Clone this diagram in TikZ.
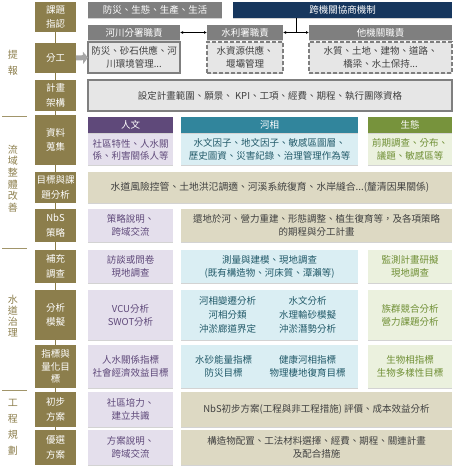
\documentclass[tikz,border=0pt]{standalone}
\usepackage{fontspec}
\setmainfont{Noto Sans CJK TC}
\usetikzlibrary{shadows,arrows.meta}
\definecolor{cOlive}{HTML}{8C7E4C}
\definecolor{cOliveLt}{HTML}{A1956A}
\definecolor{cGrayHd}{HTML}{7F7F7F}
\definecolor{cNavy}{HTML}{17375E}
\definecolor{cGrayFill}{HTML}{E6E6E6}
\definecolor{cGrayLine}{HTML}{7F7F7F}
\definecolor{cPurHd}{HTML}{5F497A}
\definecolor{cPurFill}{HTML}{E4DFEC}
\definecolor{cPurTxt}{HTML}{5F497A}
\definecolor{cTealHd}{HTML}{31859C}
\definecolor{cBlueFill}{HTML}{DAEEF3}
\definecolor{cBlueTxt}{HTML}{215968}
\definecolor{cGrnHd}{HTML}{77933C}
\definecolor{cGrnFill}{HTML}{EBF1DE}
\definecolor{cGrnTxt}{HTML}{6F8F34}
\definecolor{cBeige}{HTML}{DDD9C3}
\definecolor{cDark}{HTML}{404040}
\definecolor{cArrow}{HTML}{A6A6A6}
\newcommand\mybox[7]{\node[#1, minimum width={#4-#2}, minimum height={#5-#3}] (#6) at ({(#2+#4)/2},{(#3+#5)/2}) {#7};}
\begin{document}
\begin{tikzpicture}[x=1pt,y=-1pt,
  base/.style={inner sep=0pt, outer sep=0pt, align=center, font=\fontsize{9.5}{13}\selectfont},
  stepbox/.style={base, fill=cOlive, text=white, font=\fontsize{9.5}{14.5}\selectfont},
  shad/.style={drop shadow={shadow xshift=0.4pt, shadow yshift=-0.9pt, opacity=0.35, fill=black!50}},
  grayhd/.style={base, fill=cGrayHd, text=white, shad},
  navyhd/.style={base, fill=cNavy, text=white, shad},
  graysolid/.style={base, fill=cGrayFill, draw=cGrayLine, line width=1.2pt, text=cDark, shad},
  graydash/.style={base, fill=cGrayFill, draw=cGrayLine, line width=1.2pt, dash pattern=on 4pt off 2pt, text=cDark, shad},
  purhd/.style={base, fill=cPurHd, text=white, shad},
  tealhd/.style={base, fill=cTealHd, text=white, shad},
  grnhd/.style={base, fill=cGrnHd, text=white, shad},
  purbox/.style={base, fill=cPurFill, text=cPurTxt, shad},
  bluebox/.style={base, fill=cBlueFill, text=cBlueTxt, shad},
  grnbox/.style={base, fill=cGrnFill, text=cGrnTxt, shad},
  beigebox/.style={base, fill=cBeige, text=cDark, shad},
  bluetxt/.style={base, text=cBlueTxt},
  phase/.style={inner sep=0pt, align=center, text=cOlive},
  sepline/.style={cOliveLt, line width=0.8pt},
  chain/.style={cOlive, line width=0.8pt},
  dbl/.style={{Latex[length=3pt,width=3pt]}-{Latex[length=3pt,width=3pt]}, line width=0.6pt, black}
]
\useasboundingbox (0,0) rectangle (456,470);

% phase labels and separators
\node[phase, font=\fontsize{10}{16}\selectfont] (ph1) at (13,63) {提\\報};
\node[phase, font=\fontsize{10}{11.7}\selectfont] (ph2) at (13,178.5) {流\\域\\整\\體\\改\\善};
\node[phase, font=\fontsize{10}{11}\selectfont] (ph3) at (13,316) {水\\道\\治\\理};
\node[phase, font=\fontsize{10}{16}\selectfont] (ph4) at (13,427) {工\\程\\規\\劃};
\draw[sepline] (2,116.5) -- (27,116.5);
\draw[sepline] (2,248.5) -- (27,248.5);
\draw[sepline] (2,390.5) -- (27,390.5);

% step boxes
\mybox{stepbox}{35}{2}{76}{32}{s1}{課題\\指認}
\mybox{stepbox}{35}{43}{76}{73}{s2}{分工}
\mybox{stepbox}{35}{80}{76}{111}{s3}{計畫\\架構}
\mybox{stepbox}{35}{115}{76}{165}{s4}{資料\\蒐集}
\mybox{stepbox}{35}{172}{76}{203}{s5}{目標與課\\題分析}
\mybox{stepbox}{35}{209}{76}{242}{s6}{NbS\\策略}
\mybox{stepbox}{35}{250}{76}{283}{s7}{補充\\調查}
\mybox{stepbox}{35}{290}{76}{340}{s8}{分析\\模擬}
\mybox{stepbox, font=\fontsize{9.5}{12.5}\selectfont}{35}{345}{76}{388}{s9}{指標與\\量化目\\標}
\mybox{stepbox}{35}{392}{76}{427}{s10}{初步\\方案}
\mybox{stepbox}{35}{430}{76}{465}{s11}{優選\\方案}
\begin{scope}[on background layer/.try]
\end{scope}
\foreach \a/\b in {s1/s2,s2/s3,s3/s4,s4/s5,s5/s6,s6/s7,s7/s8,s8/s9,s9/s10,s10/s11}
  \draw[chain] (\a.south) -- (\b.north);

% row 1
\mybox{grayhd}{88}{2}{222}{18}{t1}{防災、生態、生產、生活}
\mybox{navyhd}{233}{2}{452}{18}{t2}{跨機關協商機制}

% row 2
\mybox{grayhd}{88}{25}{180}{40}{h1}{河川分署職責}
\mybox{grayhd}{207}{25}{283}{40}{h2}{水利署職責}
\mybox{grayhd}{309}{25}{452}{40}{h3}{他機關職責}
\mybox{graysolid}{88}{42}{180}{73}{c1}{防災、砂石供應、河\\川環境管理...}
\mybox{graydash}{207}{42}{283}{73}{c2}{水資源供應、\\堰壩管理}
\mybox{graydash}{309}{42}{452}{73}{c3}{水質、土地、建物、道路、\\橋梁、水土保持...}
\draw[dbl] (h1.east) -- (h2.west);
\draw[dbl] (h2.east) -- (h3.west);
\path (h2.east) -- (h3.west) coordinate[midway] (j);
\draw[line width=0.6pt] (t2.south -| j) -- (j);
\draw[cArrow, line width=5pt, -{Triangle[length=5pt,width=12pt]}] (s2.east) -- (c1.west);

% row 3
\mybox{graysolid, line width=1.5pt}{88}{80}{452}{111}{p3}{設定計畫範圍、願景、 KPI、工項、經費、期程、執行團隊資格}

% row 4
\mybox{purhd}{88}{117}{173}{133}{h4a}{人文}
\mybox{tealhd}{181}{117}{358}{133}{h4b}{河相}
\mybox{grnhd}{368}{117}{452}{133}{h4c}{生態}
\mybox{purbox, font=\fontsize{9.5}{12}\selectfont}{88}{134}{173}{165}{c4a}{社區特性、人水關\\係、利害關係人等}
\mybox{bluebox}{181}{134}{358}{165}{c4b}{水文因子、地文因子、敏感區圖層、\\歷史圖資、災害紀錄、治理管理作為等}
\mybox{grnbox}{368}{134}{452}{165}{c4c}{前期調查、分布、\\議題、敏感區等}

% row 5
\mybox{beigebox, font=\fontsize{9.8}{13}\selectfont}{88}{172}{452}{203}{c5}{水道風險控管、土地洪氾調適、河溪系統復育、水岸縫合...(釐清因果關係)}

% row 6
\mybox{purbox}{88}{209}{173}{242}{c6a}{策略說明、\\跨域交流}
\mybox{beigebox}{181}{209}{452}{242}{c6b}{還地於河、營力重建、形態調整、植生復育等，及各項策略\\的期程與分工計畫}

% row 7
\mybox{purbox}{88}{250}{173}{283}{c7a}{訪談或問卷\\現地調查}
\mybox{bluebox}{181}{250}{358}{283}{c7b}{測量與建模、現地調查\\(既有構造物、河床質、潭瀨等)}
\mybox{grnbox}{368}{250}{452}{283}{c7c}{監測計畫研擬\\現地調查}

% row 8
\mybox{purbox}{88}{290}{173}{340}{c8a}{VCU分析\\SWOT分析}
\mybox{bluebox}{181}{290}{358}{340}{c8b}{}
\node[bluetxt, font=\fontsize{9.5}{14}\selectfont] (c8bl) at ([xshift=-42pt]c8b.center) {河相變遷分析\\河相分類\\沖淤廊道界定};
\node[bluetxt, font=\fontsize{9.5}{14}\selectfont] (c8br) at ([xshift=38pt]c8b.center) {水文分析\\水理輸砂模擬\\沖淤潛勢分析};
\mybox{grnbox}{368}{290}{452}{340}{c8c}{族群競合分析\\營力課題分析}

% row 9
\mybox{purbox}{88}{345}{173}{388}{c9a}{人水關係指標\\社會經濟效益目標}
\mybox{bluebox}{181}{345}{358}{388}{c9b}{}
\node[bluetxt] (c9bl) at ([xshift=-46pt]c9b.center) {水砂能量指標\\防災目標};
\node[bluetxt] (c9br) at ([xshift=38pt]c9b.center) {健康河相指標\\物理棲地復育目標};
\mybox{grnbox}{368}{345}{452}{388}{c9c}{生物相指標\\生物多樣性目標}

% row 10
\mybox{purbox}{88}{392}{173}{427}{c10a}{社區培力、\\建立共識}
\mybox{beigebox}{181}{392}{452}{427}{c10b}{NbS初步方案(工程與非工程措施) 評價、成本效益分析}

% row 11
\mybox{purbox}{88}{430}{173}{465}{c11a}{方案說明、\\跨域交流}
\mybox{beigebox}{181}{430}{452}{465}{c11b}{構造物配置、工法材料選擇、經費、期程、關連計畫\\及配合措施}
\end{tikzpicture}
\end{document}
